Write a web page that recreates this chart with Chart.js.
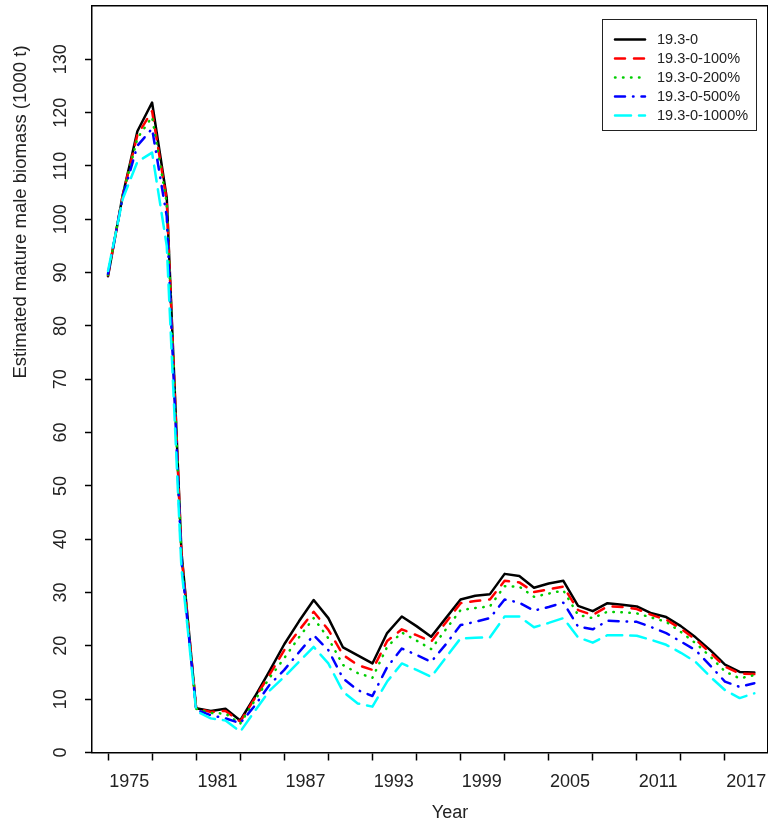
<!DOCTYPE html>
<html>
<head>
<meta charset="utf-8">
<script src="https://cdn.jsdelivr.net/npm/chart.js@4.4.0/dist/chart.umd.min.js"></script>
<style>
  html, body { margin: 0; padding: 0; background: #fff; overflow: hidden; }
  #wrap { position: relative; width: 768px; height: 822px; }
  #legend {
    position: absolute; left: 602px; top: 19px; width: 155px; height: 112px;
    border: 1.5px solid #222; box-sizing: border-box;
    font: 14.5px "Liberation Sans", Arial, sans-serif; color: #222;
  }
  #legend .row { position: absolute; left: 0; height: 19px; line-height: 19px; white-space: nowrap; }
  #legend svg { position: absolute; left: 10px; top: 4px; }
  #legend span { position: absolute; left: 54px; top: 0; }
</style>
</head>
<body>
<div id="wrap">
  <canvas id="c" width="768" height="822"></canvas>
  <div id="legend"></div>
</div>
<script>
// years of the series
const years = [1975, 1976, 1977, 1978, 1979, 1980, 1981, 1982, 1983, 1984,
  1985, 1986, 1987, 1988, 1989, 1990, 1991, 1992, 1993, 1994,
  1995, 1996, 1997, 1998, 1999, 2000, 2001, 2002, 2003, 2004,
  2005, 2006, 2007, 2008, 2009, 2010, 2011, 2012, 2013, 2014,
  2015, 2016, 2017, 2018, 2019];

// estimated mature male biomass (1000 t)
const mmb_0 = [89.3, 104.5, 116.5, 121.9, 104.0, 37.6, 8.3, 7.8, 8.2, 6.0,
  10.5, 15.3, 20.3, 24.6, 28.6, 25.2, 19.7, 18.2, 16.7, 22.4,
  25.5, 23.7, 21.7, 25.2, 28.7, 29.4, 29.7, 33.5, 33.1, 30.9,
  31.7, 32.2, 27.5, 26.5, 28.0, 27.7, 27.4, 26.1, 25.4, 23.7,
  21.6, 19.2, 16.5, 15.1, 15.0];
const mmb_100 = [89.5, 104.5, 115.8, 120.3, 103.5, 37.2, 8.3, 7.6, 7.8, 5.8,
  10.2, 14.6, 19.2, 22.9, 26.4, 23.0, 18.3, 16.4, 15.5, 20.9,
  23.1, 22.0, 20.8, 24.4, 28.0, 28.4, 28.7, 32.2, 31.9, 30.1,
  30.6, 31.1, 26.7, 25.8, 27.4, 27.3, 26.9, 25.8, 24.9, 23.2,
  21.2, 18.7, 16.1, 14.8, 14.7];
const mmb_200 = [89.6, 104.5, 115.2, 119.2, 103.0, 36.8, 8.2, 7.4, 7.3, 5.4,
  9.8, 14.0, 17.7, 21.6, 25.2, 21.4, 16.4, 14.9, 14.0, 19.8,
  22.5, 21.0, 19.4, 23.1, 26.7, 27.1, 27.4, 31.2, 31.1, 29.2,
  29.8, 30.4, 25.8, 25.2, 26.4, 26.3, 26.1, 25.3, 24.5, 22.6,
  20.5, 18.0, 15.2, 13.9, 14.5];
const mmb_500 = [89.8, 104.2, 113.8, 117.0, 100.5, 36.0, 8.0, 7.0, 6.4, 5.5,
  8.8, 12.7, 15.5, 18.8, 22.0, 19.2, 13.9, 11.7, 10.6, 16.0,
  19.5, 18.3, 17.0, 20.3, 23.9, 24.5, 25.2, 28.7, 28.1, 26.6,
  27.3, 28.1, 23.6, 23.1, 24.7, 24.6, 24.5, 23.5, 22.4, 20.8,
  19.2, 16.3, 13.3, 12.3, 13.0];
const mmb_1000 = [90.3, 103.8, 110.8, 112.5, 95.0, 34.5, 7.8, 6.4, 6.0, 3.9,
  7.8, 11.6, 14.2, 17.0, 19.8, 16.7, 11.4, 9.2, 8.6, 13.3,
  16.7, 15.5, 14.2, 17.8, 21.4, 21.5, 21.6, 25.5, 25.5, 23.5,
  24.3, 25.2, 21.6, 20.6, 22.0, 22.0, 21.9, 21.1, 20.2, 18.7,
  17.0, 14.2, 11.7, 10.2, 11.1];

const seriesNames = ['19.3-0', '19.3-0-100%', '19.3-0-200%', '19.3-0-500%', '19.3-0-1000%'];

// axis ticks
const tickYears = [1975, 1978, 1981, 1984, 1987, 1990, 1993, 1996, 1999, 2002, 2005, 2008, 2011, 2014, 2017];
const labelYears = [1975, 1981, 1987, 1993, 1999, 2005, 2011, 2017];
const yTicks = [0, 10, 20, 30, 40, 50, 60, 70, 80, 90, 100, 110, 120, 130];

const xTitle = 'Year';
const yTitle = 'Estimated mature male biomass (1000 t)';

const FONT = '"Liberation Sans", Arial, sans-serif';
const LABEL_SHIFT = 1.45; // year labels sit to the right of their tick in the original

const styles = [
  { color: '#000000', dash: [] },
  { color: '#ff0000', dash: [10, 9] },
  { color: '#00cd00', dash: [0.5, 7.5] },
  { color: '#0000ff', dash: [10, 8, 0.5, 8] },
  { color: '#00ffff', dash: [16, 8] }
];
const allSeries = [mmb_0, mmb_100, mmb_200, mmb_500, mmb_1000];

const datasets = allSeries.map((vals, i) => ({
  label: seriesNames[i],
  data: years.map((yr, j) => ({ x: yr, y: vals[j] })),
  borderColor: styles[i].color,
  borderDash: styles[i].dash,
  borderWidth: 2.5,
  borderCapStyle: 'round',
  borderJoinStyle: 'round',
  pointRadius: 0,
  tension: 0,
  fill: false,
  order: 5 - i
}));

const titlePlugin = {
  id: 'titles',
  afterDraw(chart) {
    const c = chart.ctx;
    c.save();
    c.fillStyle = '#222';
    c.font = '18px ' + FONT;
    c.textAlign = 'center';
    c.textBaseline = 'middle';
    c.fillText(xTitle, 450, 813);
    c.font = '18.5px ' + FONT;
    c.translate(21, 212);
    c.rotate(-Math.PI / 2);
    c.fillText(yTitle, 0, 0);
    c.restore();
  }
};

// no extra room for edge labels: the plot box is fixed like the original
const noPad = s => { s.paddingTop = 0; s.paddingBottom = 0; s.paddingLeft = 0; s.paddingRight = 0; };

new Chart(document.getElementById('c'), {
  type: 'line',
  data: { datasets },
  options: {
    responsive: false,
    animation: false,
    devicePixelRatio: 1,
    layout: { padding: { top: 6, right: 0, bottom: 24.5, left: 0 } },
    plugins: { legend: { display: false }, tooltip: { enabled: false } },
    scales: {
      x: {
        type: 'linear', position: 'bottom',
        min: 1973.91, max: 2019.93,
        afterBuildTicks: s => {
          const t = tickYears.map(v => ({ value: v }))
            .concat(labelYears.map(v => ({ value: v + LABEL_SHIFT })));
          t.sort((a, b) => a.value - b.value);
          s.ticks = t;
        },
        afterFit: s => { s.height = 45; noPad(s); },
        ticks: {
          autoSkip: false, maxRotation: 0, minRotation: 0, padding: 11,
          color: '#222', font: { family: FONT, size: 18 },
          callback: v => Number.isInteger(v) ? '' : String(Math.round(v - LABEL_SHIFT))
        },
        grid: {
          drawOnChartArea: false, tickLength: 8, tickWidth: 1.5,
          tickColor: ctx => (ctx.tick && Number.isInteger(ctx.tick.value)) ? '#000' : 'rgba(0,0,0,0)'
        },
        border: { display: true, color: '#000', width: 1.5 }
      },
      y: {
        type: 'linear', position: 'left',
        min: 0, max: 140,
        afterBuildTicks: s => { s.ticks = yTicks.map(v => ({ value: v })); },
        afterFit: s => { s.width = 92; noPad(s); },
        ticks: {
          minRotation: 90, maxRotation: 90, crossAlign: 'center', padding: 9,
          color: '#222', font: { family: FONT, size: 18 }
        },
        grid: { drawOnChartArea: false, tickLength: 7, tickWidth: 1.5, tickColor: '#000' },
        border: { display: true, color: '#000', width: 1.5 }
      },
      xTop: {
        type: 'linear', position: 'top', min: 0, max: 1,
        afterFit: s => { s.height = 0; noPad(s); },
        ticks: { display: false },
        grid: { drawOnChartArea: false, drawTicks: false },
        border: { display: true, color: '#000', width: 1.5 }
      },
      yRight: {
        type: 'linear', position: 'right', min: 0, max: 1,
        afterFit: s => { s.width = 0; noPad(s); },
        ticks: { display: false },
        grid: { drawOnChartArea: false, drawTicks: false },
        border: { display: true, color: '#000', width: 1.5 }
      }
    }
  },
  plugins: [titlePlugin]
});

// legend box built from the datasets
const leg = document.getElementById('legend');
datasets.forEach((d, i) => {
  const row = document.createElement('div');
  row.className = 'row';
  row.style.top = (10 + i * 19) + 'px';
  row.style.width = '150px';
  const dash = styles[i].dash.length ? styles[i].dash.join(' ') : 'none';
  row.innerHTML = '<svg width="34" height="11"><line x1="2" y1="5.5" x2="32" y2="5.5" stroke="' +
    styles[i].color + '" stroke-width="2.5" stroke-linecap="round" stroke-dasharray="' + dash + '"/></svg>' +
    '<span>' + d.label + '</span>';
  leg.appendChild(row);
});
</script>
</body>
</html>
